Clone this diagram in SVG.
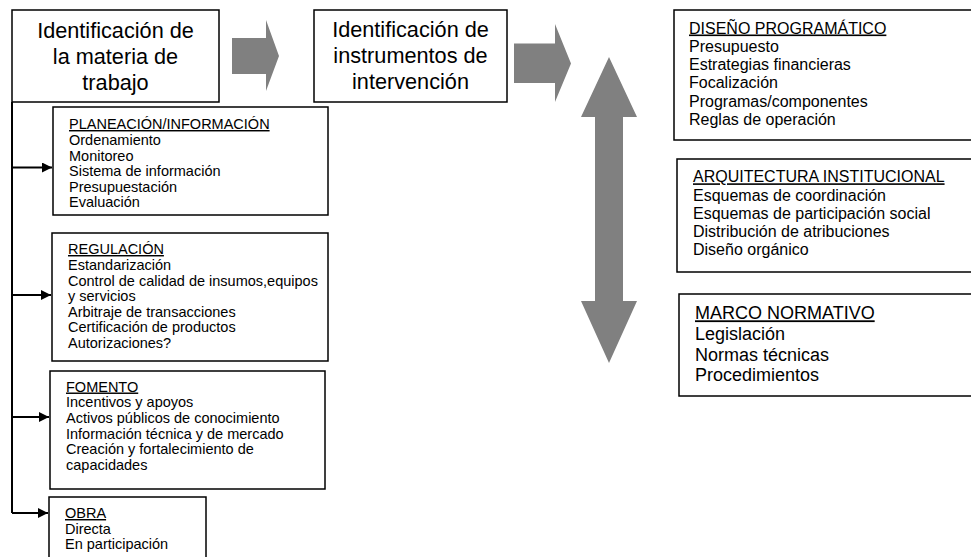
<svg xmlns="http://www.w3.org/2000/svg" width="971" height="557" viewBox="0 0 971 557">
<defs>
<style>
text{font-family:"Liberation Sans",Arial,sans-serif;fill:#000}
.box{fill:#fff;stroke:#000;stroke-width:1.5}
.big{font-size:21.7px;text-anchor:middle}
.sm{font-size:14.5px}
.md{font-size:16px}
.lg{font-size:18px}
.u{text-decoration:underline}
.blk{fill:#808080;stroke:none}
.con{fill:none;stroke:#000;stroke-width:2}
</style>
<marker id="ah" viewBox="0 0 10 10" refX="10" refY="5" markerWidth="10" markerHeight="10" markerUnits="userSpaceOnUse" orient="auto">
<path d="M0,0 L10,5 L0,10 Z" fill="#000"/>
</marker>
</defs>

<g id="connectors">
<path class="con" d="M12,102 V513"/>
<path class="con" d="M12,167.5 H52" marker-end="url(#ah)"/>
<path class="con" d="M12,295 H51" marker-end="url(#ah)"/>
<path class="con" d="M12,417 H49" marker-end="url(#ah)"/>
<path class="con" d="M12,513 H48" marker-end="url(#ah)"/>
<polygon class="blk" points="232,38 266,38 266,20 279,56 266,91 266,74 232,74"/>
<polygon class="blk" points="514,43.5 555,43.5 555,24 571,63.5 555,102 555,83 514,83"/>
<polygon class="blk" points="609,57 637,117 623,117 623,301 637,301 609,363 581,301 595,301 595,117 581,117"/>
</g>

<g id="n1">
<rect class="box" x="12" y="10" width="207" height="92"/>
<text class="big" x="115.5" y="38">Identificación de</text>
<text class="big" x="115.5" y="64">la materia de</text>
<text class="big" x="115.5" y="90">trabajo</text>
</g>

<g id="n2">
<rect class="box" x="314" y="10" width="193" height="92"/>
<text class="big" x="410.5" y="37">Identificación de</text>
<text class="big" x="410.5" y="63">instrumentos de</text>
<text class="big" x="410.5" y="89">intervención</text>
</g>

<g id="planeacion">
<rect class="box" x="53" y="107" width="275" height="108"/>
<text class="sm" x="69"><tspan class="u" x="69" y="129">PLANEACIÓN/INFORMACIÓN</tspan><tspan x="69" y="145">Ordenamiento</tspan><tspan x="69" y="160.5">Monitoreo</tspan><tspan x="69" y="176">Sistema de información</tspan><tspan x="69" y="191.5">Presupuestación</tspan><tspan x="69" y="207">Evaluación</tspan></text>
</g>

<g id="regulacion">
<rect class="box" x="52" y="233" width="276" height="128"/>
<text class="sm"><tspan class="u" x="68" y="254">REGULACIÓN</tspan><tspan x="68" y="270">Estandarización</tspan><tspan x="68" y="285.5">Control de calidad de insumos,equipos</tspan><tspan x="68" y="301">y servicios</tspan><tspan x="68" y="316.5">Arbitraje de transacciones</tspan><tspan x="68" y="332">Certificación de productos</tspan><tspan x="68" y="347.5">Autorizaciones?</tspan></text>
</g>

<g id="fomento">
<rect class="box" x="50" y="371" width="275" height="118"/>
<text class="sm"><tspan class="u" x="66" y="391.5">FOMENTO</tspan><tspan x="66" y="407">Incentivos y apoyos</tspan><tspan x="66" y="423">Activos públicos de conocimiento</tspan><tspan x="66" y="438.5">Información técnica y de mercado</tspan><tspan x="66" y="454">Creación y fortalecimiento de</tspan><tspan x="66" y="470">capacidades</tspan></text>
</g>

<g id="obra">
<rect class="box" x="49" y="497" width="157" height="70"/>
<text class="sm"><tspan class="u" x="65" y="518">OBRA</tspan><tspan x="65" y="533.5">Directa</tspan><tspan x="65" y="549">En participación</tspan></text>
</g>

<g id="diseno">
<rect class="box" x="674" y="10" width="300" height="130"/>
<text class="md"><tspan class="u" x="689" y="33.5">DISEÑO PROGRAMÁTICO</tspan><tspan x="689" y="51.5">Presupuesto</tspan><tspan x="689" y="70">Estrategias financieras</tspan><tspan x="689" y="88.3">Focalización</tspan><tspan x="689" y="106.7">Programas/componentes</tspan><tspan x="689" y="125">Reglas de operación</tspan></text>
</g>

<g id="arquitectura">
<rect class="box" x="677" y="159" width="300" height="113"/>
<text class="md"><tspan class="u" x="693" y="182.3">ARQUITECTURA INSTITUCIONAL</tspan><tspan x="693" y="200.5">Esquemas de coordinación</tspan><tspan x="693" y="218.8">Esquemas de participación social</tspan><tspan x="693" y="237">Distribución de atribuciones</tspan><tspan x="693" y="255.3">Diseño orgánico</tspan></text>
</g>

<g id="marco">
<rect class="box" x="679" y="294" width="300" height="102"/>
<text class="lg"><tspan class="u" x="695" y="319.3">MARCO NORMATIVO</tspan><tspan x="695" y="340">Legislación</tspan><tspan x="695" y="360.5">Normas técnicas</tspan><tspan x="695" y="381">Procedimientos</tspan></text>
</g>
</svg>
